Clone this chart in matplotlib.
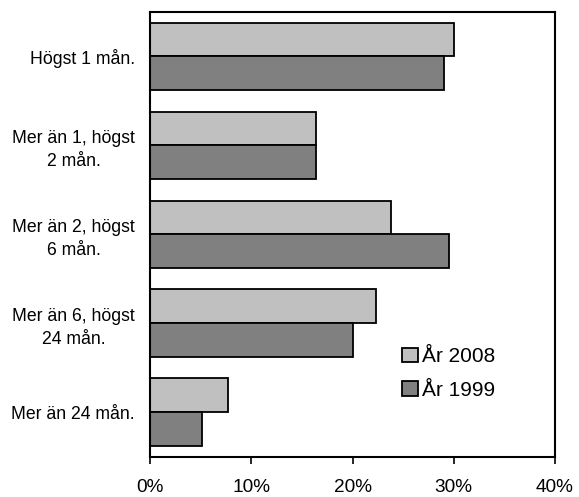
import numpy as np
import matplotlib
matplotlib.use('Agg')
import matplotlib.pyplot as plt

plt.rcParams['font.family'] = ['Liberation Sans', 'DejaVu Sans']

categories = ['Högst 1 mån.', 'Mer än 1, högst\n2 mån.', 'Mer än 2, högst\n6 mån.',
              'Mer än 6, högst\n24 mån.', 'Mer än 24 mån.']
values_2008 = [30.0, 16.4, 23.8, 22.3, 7.7]
values_1999 = [29.0, 16.4, 29.5, 20.0, 5.1]
xticks = [0, 10, 20, 30, 40]

fig = plt.figure(figsize=(5.79, 4.97), dpi=100)
ax = fig.add_axes([0.2596, 0.0811, 0.6989, 0.8948])

y = np.arange(len(categories))
h = 0.38
ax.barh(y - h / 2, values_2008, height=h, color='#c0c0c0', edgecolor='black',
        linewidth=1.3, label='År 2008')
ax.barh(y + h / 2, values_1999, height=h, color='#808080', edgecolor='black',
        linewidth=1.3, label='År 1999')

ax.set_xlim(0, 40)
ax.set_ylim(len(categories) - 0.5, -0.5)
ax.set_xticks(xticks)
ax.set_xticklabels([f'{t}%' for t in xticks], fontsize=13.7)
ax.set_yticks(y)
ax.set_yticklabels(categories, fontsize=12.7, linespacing=1.45, multialignment='center')
ax.tick_params(axis='y', length=0, pad=11)
ax.tick_params(axis='x', length=5, width=1.2, pad=11)
for s in ax.spines.values():
    s.set_linewidth(1.5)

ax.legend(loc='center left', bbox_to_anchor=(0.622, 0.187), frameon=False,
          fontsize=15, handlelength=0.77, handleheight=0.67, handletextpad=0.18,
          labelspacing=0.7, borderaxespad=0, borderpad=0)

fig.savefig('out.png', dpi=100)
